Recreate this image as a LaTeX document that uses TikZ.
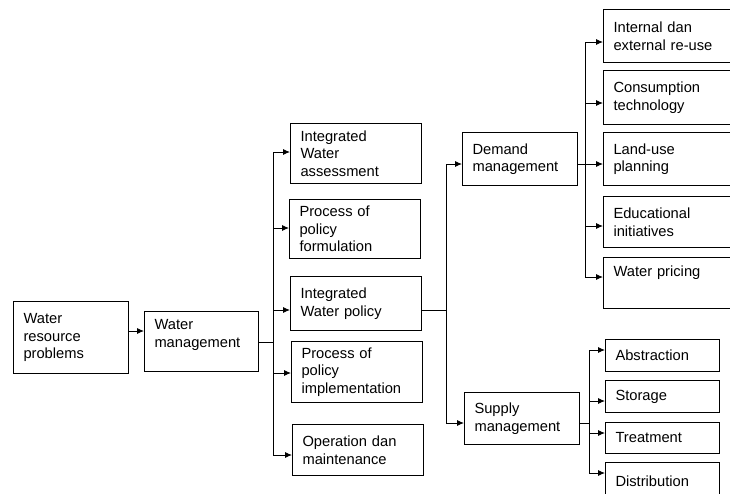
\documentclass[tikz,border=0pt]{standalone}
\usepackage{fontspec}
\setmainfont{Liberation Sans}
\usetikzlibrary{arrows.meta}
\tikzstyle{box}=[rectangle,draw=black,line width=1pt,anchor=north west,
                 align=left,inner xsep=10pt,inner ysep=3pt,
                 font=\fontsize{14.7}{17.5}\selectfont]
\tikzstyle{arr}=[-{Latex[length=7pt,width=6pt]},line width=0.9pt]
\tikzstyle{link}=[line width=0.9pt]

\begin{document}
\begin{tikzpicture}[x=1pt,y=-1pt]
    \useasboundingbox (0,0) rectangle (730,493);
    \clip (0,0) rectangle (730,493);
    \node (wrp) at ( 13,301) [box,text width=95pt,minimum height=72pt]{Water\\resource\\problems};
    \node (wm)  at (144,311) [box,text width=94pt,minimum height=60pt,text depth=34pt]{Water\\management};
    \node (iwa) at (290,123) [box,text width=111pt,minimum height=60pt]{Integrated\\Water\\assessment};
    \node (ppf) at (289,199) [box,text width=111pt,minimum height=59pt]{Process of\\policy\\formulation};
    \node (iwp) at (290,276) [box,text width=111pt,minimum height=54pt]{Integrated\\Water policy};
    \node (ppi) at (291,341) [box,text width=111pt,minimum height=61pt]{Process of\\policy\\implementation};
    \node (om)  at (292,424) [box,text width=111pt,minimum height=51pt]{Operation dan\\maintenance};
    \node (dm)  at (462,132) [box,text width=95pt,minimum height=53pt]{Demand\\management};
    \node (sm)  at (464,392) [box,text width=95pt,minimum height=52pt]{Supply\\management};
    \node (ire) at (603,  9) [box,text width=122pt,minimum height=53pt]{Internal dan\\external re-use};
    \node (ct)  at (603, 70) [box,text width=122pt,minimum height=54pt]{Consumption\\technology};
    \node (lup) at (603,132) [box,text width=122pt,minimum height=53pt]{Land-use\\planning};
    \node (ei)  at (603,196) [box,text width=122pt,minimum height=51pt]{Educational\\initiatives};
    \node (wp)  at (603,257) [box,text width=122pt,minimum height=51pt,text depth=24pt]{Water pricing};
    \node (abs) at (605,339) [box,text width=94pt,minimum height=32pt]{Abstraction};
    \node (sto) at (605,380) [box,text width=94pt,minimum height=32pt]{Storage};
    \node (tre) at (605,422) [box,text width=94pt,minimum height=31pt]{Treatment};
    \node (dis) at (605,462) [box,text width=94pt,minimum height=38pt]{Distribution};
    \coordinate (j1) at (273,342);
    \coordinate (j2) at (446,310);
    \coordinate (j3) at (585,164);
    \coordinate (j4) at (589,423);
    \draw[arr] (wrp.east |- 0,331) -- (wm.west |- 0,331);
    \draw[link] (wm.east |- j1) -- (j1) (j1 |- 0,152) -- (j1 |- 0,455);
    \foreach \n/\y in {iwa/152,ppf/228,iwp/310,ppi/373,om/455}
      \draw[arr] (j1 |- 0,\y) -- (\n.west |- 0,\y);
    \draw[link] (iwp.east |- j2) -- (j2) (j2 |- 0,164) -- (j2 |- 0,423);
    \foreach \n/\y in {dm/164,sm/423}
      \draw[arr] (j2 |- 0,\y) -- (\n.west |- 0,\y);
    \draw[link] (dm.east |- j3) -- (j3) (j3 |- 0,42) -- (j3 |- 0,277);
    \foreach \n/\y in {ire/42,ct/103,lup/164,ei/226,wp/277}
      \draw[arr] (j3 |- 0,\y) -- (\n.west |- 0,\y);
    \draw[link] (sm.east |- j4) -- (j4) (j4 |- 0,350) -- (j4 |- 0,473);
    \foreach \n/\y in {abs/350,sto/401,tre/433,dis/473}
      \draw[arr] (j4 |- 0,\y) -- (\n.west |- 0,\y);
  \end{tikzpicture}
\end{document}
